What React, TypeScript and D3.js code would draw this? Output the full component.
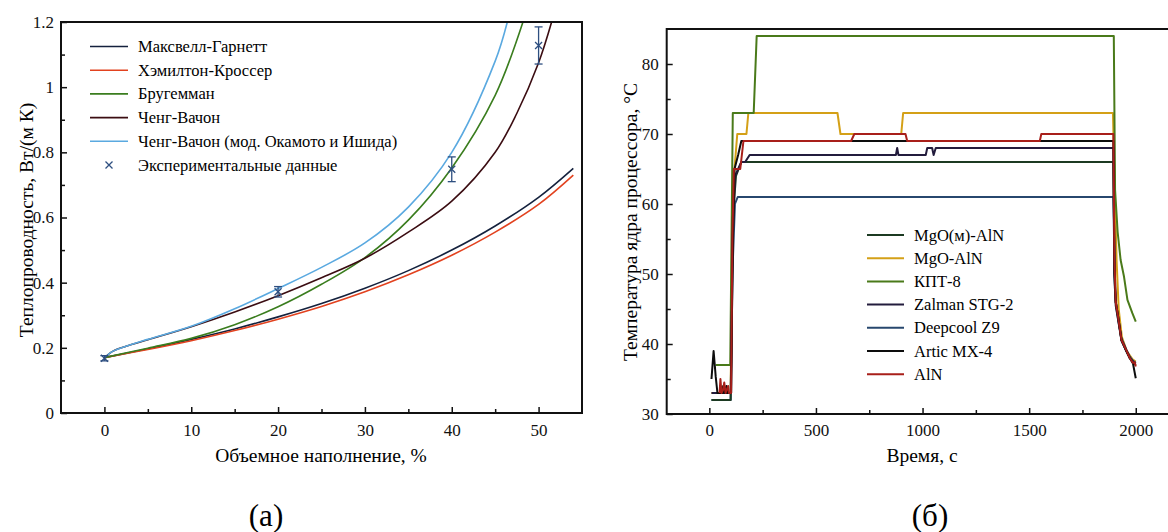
import { useEffect, useRef } from "react";
import * as d3 from "d3";

const FONT = "'Liberation Serif', 'Times New Roman', serif";

/* ---------- (а) теплопроводность ---------- */
const phiMG = [0, 5, 10, 15, 20, 25, 30, 35, 40, 45, 50, 54];
const maxwellGarnett = [0.17, 0.197, 0.226, 0.258, 0.295, 0.336, 0.383, 0.437, 0.5, 0.574, 0.662, 0.751];
const hamiltonCrosser = [0.17, 0.195, 0.222, 0.253, 0.288, 0.327, 0.372, 0.424, 0.484, 0.555, 0.64, 0.73];

const phiBrug = [0, 5, 10, 15, 20, 25, 30, 35, 40, 45, 48.2];
const bruggeman = [0.17, 0.199, 0.229, 0.271, 0.326, 0.395, 0.477, 0.592, 0.752, 0.975, 1.2];

const phiCheng = [0, 1, 2.5, 5, 10, 15, 20, 25, 30, 35, 40, 45, 47.5, 50, 51.5];
const chengVachon = [0.17, 0.19, 0.205, 0.225, 0.265, 0.31, 0.36, 0.415, 0.475, 0.555, 0.65, 0.8, 0.92, 1.075, 1.2];

const phiChengMod = [0, 1, 2.5, 5, 10, 15, 20, 25, 30, 35, 40, 45, 46.4];
const chengVachonMod = [0.17, 0.19, 0.205, 0.226, 0.266, 0.32, 0.382, 0.447, 0.522, 0.632, 0.8, 1.08, 1.2];

const expPhi = [0, 20, 40, 50];
const expK = [0.168, 0.372, 0.748, 1.128];
const expErr = [0.008, 0.016, 0.038, 0.057];

const modelNames = [
  "Максвелл-Гарнетт",
  "Хэмилтон-Кроссер",
  "Бругемман",
  "Ченг-Вачон",
  "Ченг-Вачон (мод. Окамото и Ишида)",
];
const modelColors = ["#14213d", "#e2421f", "#3a7d1e", "#3b0d12", "#5aa9e0"];
const expColor = "#2e4f80";

/* ---------- (б) температура процессора ---------- */
const mgoMAlN: [number, number][] = [
  [10, 32], [100, 32], [110, 58], [125, 64], [150, 66], [1895, 66], [1900, 52], [1906, 46],
  [1917, 44], [1933, 40.5], [1956, 39], [1972, 38], [1987, 37.4], [2000, 37],
];
const mgoAlN: [number, number][] = [
  [10, 33], [100, 33], [108, 60], [118, 65], [131, 70], [174, 70], [183, 73], [601, 73], [615, 70],
  [900, 70], [909, 73], [1893, 73], [1900, 64], [1910, 52], [1920, 45], [1935, 41], [1958, 39],
  [1985, 37.8], [2000, 37.5],
];
const kpt8: [number, number][] = [
  [30, 37], [98, 37], [104, 55], [110, 73], [208, 73], [222, 84], [1897, 84], [1903, 62],
  [1915, 56], [1929, 52], [1945, 49.6], [1961, 46.3], [1984, 44.4], [2000, 43.2],
];
const zalman: [number, number][] = [
  [10, 33], [102, 33], [110, 55], [120, 64], [150, 66], [168, 66], [189, 67], [875, 67], [881, 68],
  [887, 67], [1015, 67], [1022, 68], [1045, 68], [1052, 67], [1062, 68], [1895, 68], [1900, 50],
  [1906, 45.5], [1917, 43.5], [1933, 40.5], [1956, 39], [1972, 38], [1987, 37.5], [2000, 37.2],
];
const deepcool: [number, number][] = [
  [10, 32], [100, 32], [108, 50], [120, 60], [133, 61], [1895, 61], [1902, 48], [1910, 45],
  [1920, 43], [1933, 40.8], [1956, 39.2], [1972, 38.2], [1987, 37.6], [2000, 37.3],
];
const articMX4: [number, number][] = [
  [10, 35], [20, 39], [30, 35.3], [38, 33], [60, 33], [65, 34], [70, 33], [80, 34], [85, 33],
  [102, 33], [110, 55], [118, 65], [135, 67], [150, 69], [1895, 69], [1900, 50], [1906, 46],
  [1917, 44], [1933, 40.6], [1956, 39], [1972, 38], [1987, 37.2], [2000, 35.1],
];
const aln: [number, number][] = [
  [48, 33], [52, 35], [57, 33], [65, 33.5], [70, 34.5], [76, 33], [88, 34], [92, 33], [102, 33],
  [108, 55], [115, 65], [145, 65], [160, 69], [665, 69], [680, 70], [920, 70], [928, 69],
  [1550, 69], [1557, 70], [1895, 70], [1900, 52], [1906, 46], [1917, 43.9], [1933, 40.6],
  [1956, 39.1], [1972, 38], [1987, 37.3], [1995, 37.4], [2000, 36.8],
];

const tempNames = ["MgO(м)-AlN", "MgO-AlN", "КПТ-8", "Zalman STG-2", "Deepcool Z9", "Artic MX-4", "AlN"];
const tempColors = ["#1c3a22", "#d4a017", "#4a7a1a", "#231c3d", "#27476e", "#0d0d0d", "#a81f1a"];

export default function App() {
  const ref = useRef<SVGSVGElement>(null);

  useEffect(() => {
    const svg = d3.select(ref.current);
    svg.selectAll("*").remove();
    svg.style("font-family", FONT);

    const styleAxis = (g: d3.Selection<SVGGElement, unknown, null, undefined>) => {
      g.select(".domain").remove();
      g.selectAll("line").attr("stroke", "#111").attr("stroke-width", 1.5);
      g.selectAll("text").attr("font-family", FONT).attr("font-size", 17).attr("fill", "#111");
    };

    /* =====================
       (а)
    ===================== */
    const xA = d3.scaleLinear().domain([-5, 55]).range([61, 582]);
    const yA = d3.scaleLinear().domain([0, 1.2]).range([413, 22]);

    const gA = svg.append("g");

    gA.append("clipPath")
      .attr("id", "clipA")
      .append("rect")
      .attr("x", 61)
      .attr("y", 22)
      .attr("width", 521)
      .attr("height", 391);

    const lineA = d3
      .line<[number, number]>()
      .x((d) => xA(d[0]))
      .y((d) => yA(d[1]))
      .curve(d3.curveCatmullRom.alpha(0.5));

    const curves: [number[], number[]][] = [
      [phiMG, maxwellGarnett],
      [phiMG, hamiltonCrosser],
      [phiBrug, bruggeman],
      [phiCheng, chengVachon],
      [phiChengMod, chengVachonMod],
    ];

    curves.forEach(([xs, ys], i) => {
      gA.append("path")
        .attr("d", lineA(xs.map((x, j) => [x, ys[j]] as [number, number])))
        .attr("fill", "none")
        .attr("stroke", modelColors[i])
        .attr("stroke-width", 1.6)
        .attr("clip-path", "url(#clipA)");
    });

    // experimental points with error bars
    expPhi.forEach((p, i) => {
      const cx = xA(p);
      const top = yA(expK[i] + expErr[i]);
      const bot = yA(expK[i] - expErr[i]);
      const g = gA.append("g").attr("stroke", expColor).attr("stroke-width", 1.3);
      g.append("line").attr("x1", cx).attr("x2", cx).attr("y1", top).attr("y2", bot);
      g.append("line").attr("x1", cx - 4).attr("x2", cx + 4).attr("y1", top).attr("y2", top);
      g.append("line").attr("x1", cx - 4).attr("x2", cx + 4).attr("y1", bot).attr("y2", bot);
      const cy = yA(expK[i]);
      g.append("path")
        .attr("d", `M${cx - 3.5},${cy - 3.5}L${cx + 3.5},${cy + 3.5}M${cx - 3.5},${cy + 3.5}L${cx + 3.5},${cy - 3.5}`);
    });

    gA.append("rect")
      .attr("x", 61)
      .attr("y", 22)
      .attr("width", 521)
      .attr("height", 391)
      .attr("fill", "none")
      .attr("stroke", "#111")
      .attr("stroke-width", 2);

    gA.append("g")
      .attr("transform", "translate(0,413)")
      .call(d3.axisBottom(xA).tickValues([0, 10, 20, 30, 40, 50]).tickFormat(d3.format("d")).tickSize(-6).tickPadding(11))
      .call(styleAxis);
    gA.append("g")
      .attr("transform", "translate(0,413)")
      .call(d3.axisBottom(xA).tickValues([5, 15, 25, 35, 45]).tickFormat(() => "").tickSize(-4))
      .call(styleAxis);
    gA.append("g")
      .attr("transform", "translate(61,0)")
      .call(
        d3.axisLeft(yA)
          .tickValues([0, 0.2, 0.4, 0.6, 0.8, 1, 1.2])
          .tickFormat((d) => String(+(+d).toFixed(1)))
          .tickSize(-6)
          .tickPadding(7)
      )
      .call(styleAxis);
    gA.append("g")
      .attr("transform", "translate(61,0)")
      .call(d3.axisLeft(yA).tickValues([0.1, 0.3, 0.5, 0.7, 0.9, 1.1]).tickFormat(() => "").tickSize(-4))
      .call(styleAxis);

    gA.append("text")
      .attr("x", 321)
      .attr("y", 462)
      .attr("text-anchor", "middle")
      .attr("font-size", 19.5)
      .text("Объемное наполнение, %");
    gA.append("text")
      .attr("transform", "translate(33,220) rotate(-90)")
      .attr("text-anchor", "middle")
      .attr("font-size", 19.5)
      .text("Теплопроводность, Вт/(м К)");

    const legA = gA.append("g").attr("font-size", 16.5);
    modelNames.forEach((name, i) => {
      const y = 46.5 + i * 23.7;
      legA.append("line").attr("x1", 90).attr("x2", 128).attr("y1", y).attr("y2", y)
        .attr("stroke", modelColors[i]).attr("stroke-width", 1.6);
      legA.append("text").attr("x", 138).attr("y", y + 5.5).text(name);
    });
    {
      const y = 46.5 + 5 * 23.7;
      const cx = 109;
      legA.append("path")
        .attr("d", `M${cx - 3.5},${y - 3.5}L${cx + 3.5},${y + 3.5}M${cx - 3.5},${y + 3.5}L${cx + 3.5},${y - 3.5}`)
        .attr("stroke", expColor)
        .attr("stroke-width", 1.3);
      legA.append("text").attr("x", 138).attr("y", y + 5.5).text("Экспериментальные данные");
    }

    svg.append("text")
      .attr("x", 266)
      .attr("y", 526)
      .attr("text-anchor", "middle")
      .attr("font-size", 31)
      .text("(а)");

    /* =====================
       (б)
    ===================== */
    const xB = d3.scaleLinear().domain([-200, 2200]).range([666.7, 1178.4]);
    const yB = d3.scaleLinear().domain([30, 85]).range([414, 29]);

    const gB = svg.append("g");

    const lineB = d3
      .line<[number, number]>()
      .x((d) => xB(d[0]))
      .y((d) => yB(d[1]));

    const series = [mgoMAlN, mgoAlN, kpt8, zalman, deepcool, articMX4, aln];
    const drawOrder = [1, 2, 4, 0, 3, 5, 6];
    drawOrder.forEach((i) => {
      gB.append("path")
        .attr("d", lineB(series[i]))
        .attr("fill", "none")
        .attr("stroke", tempColors[i])
        .attr("stroke-width", 2)
        .attr("stroke-linejoin", "round");
    });

    gB.append("path")
      .attr("d", `M1180,29H666.7V414H1180`)
      .attr("fill", "none")
      .attr("stroke", "#111")
      .attr("stroke-width", 2);

    gB.append("g")
      .attr("transform", "translate(0,414)")
      .call(d3.axisBottom(xB).tickValues([0, 500, 1000, 1500, 2000]).tickFormat(d3.format("d")).tickSize(-6).tickPadding(10))
      .call(styleAxis);
    gB.append("g")
      .attr("transform", "translate(0,414)")
      .call(d3.axisBottom(xB).tickValues([250, 750, 1250, 1750]).tickFormat(() => "").tickSize(-4))
      .call(styleAxis);
    gB.append("g")
      .attr("transform", "translate(666.7,0)")
      .call(d3.axisLeft(yB).tickValues([30, 40, 50, 60, 70, 80]).tickSize(-6).tickPadding(8))
      .call(styleAxis);
    gB.append("g")
      .attr("transform", "translate(666.7,0)")
      .call(d3.axisLeft(yB).tickValues([35, 45, 55, 65, 75]).tickFormat(() => "").tickSize(-4))
      .call(styleAxis);

    gB.append("text")
      .attr("x", 922)
      .attr("y", 462)
      .attr("text-anchor", "middle")
      .attr("font-size", 19.5)
      .text("Время, с");
    gB.append("text")
      .attr("transform", "translate(637,222) rotate(-90)")
      .attr("text-anchor", "middle")
      .attr("font-size", 19.5)
      .text("Температура ядра процессора, °C");

    const legB = gB.append("g").attr("font-size", 16.5);
    tempNames.forEach((name, i) => {
      const y = 235 + i * 23.2;
      legB.append("line").attr("x1", 867).attr("x2", 904).attr("y1", y).attr("y2", y)
        .attr("stroke", tempColors[i]).attr("stroke-width", 2);
      legB.append("text").attr("x", 914).attr("y", y + 5.5).text(name);
    });

    svg.append("text")
      .attr("x", 930)
      .attr("y", 526)
      .attr("text-anchor", "middle")
      .attr("font-size", 31)
      .text("(б)");
  }, []);

  return (
    <svg
      ref={ref}
      width={1168}
      height={532}
      style={{ position: "absolute", left: 0, top: 0, background: "#fff" }}
    />
  );
}
